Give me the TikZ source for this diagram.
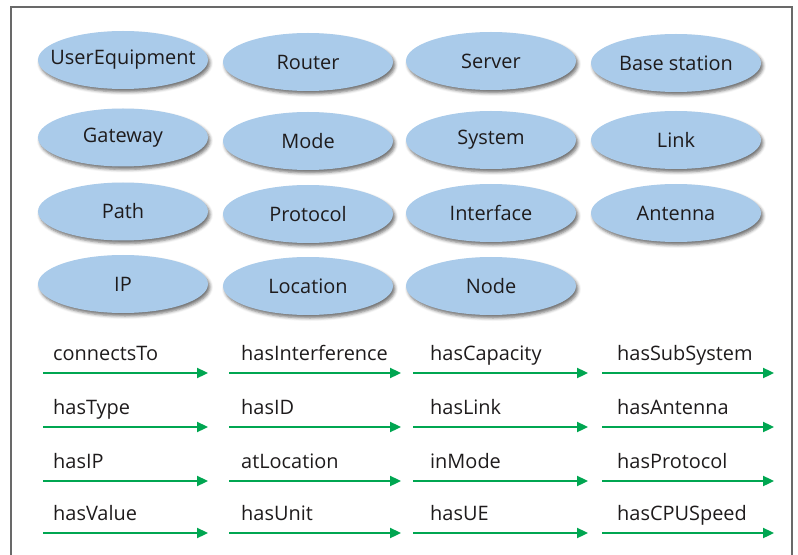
\documentclass[tikz,border=0pt]{standalone}
\usepackage{fontspec}
\setmainfont{Open Sans}
\usetikzlibrary{shapes.geometric,shadows.blur,arrows.meta}
\definecolor{ebl}{RGB}{170,203,234}
\definecolor{egr}{RGB}{0,166,81}
\definecolor{txt}{RGB}{30,27,28}
\definecolor{frm}{RGB}{105,105,105}
\newcommand{\zw}[1]{\makebox[0pt]{#1}}
\begin{document}
\begin{tikzpicture}[x=1bp,y=-1bp,
  concept/.style={ellipse, fill=ebl, minimum width=170bp, minimum height=58bp, inner sep=0pt,
    text=txt, font=\fontsize{20}{23}\selectfont,
    blur shadow={shadow xshift=2bp, shadow yshift=-3bp, shadow blur radius=3bp, shadow opacity=55}},
  rel/.style={anchor=base west, inner sep=0pt, text=txt, font=\fontsize{20}{23}\selectfont},
  relarrow/.style={draw=egr, line width=2.3bp, -{Triangle[length=11bp,width=10bp]}}]
\useasboundingbox (0,0) rectangle (798,555);
\draw[frm, line width=1.5bp] (11,556) -- (11,7) -- (792,7) -- (792,556);
% concepts
\node[concept] (ue) at (123,60) {\zw{UserEquipment}};
\node[concept] (router) at (308,62) {\zw{Router}};
\node[concept] (server) at (491,61) {\zw{Server}};
\node[concept] (base) at (676,63) {\zw{Base station}};
\node[concept] (gateway) at (123,137.5) {\zw{Gateway}};
\node[concept] (mode) at (308,141) {\zw{Mode}};
\node[concept] (system) at (491,140) {\zw{System}};
\node[concept] (link) at (676,140) {\zw{Link}};
\node[concept] (path) at (123,211.5) {\zw{Path}};
\node[concept] (protocol) at (308,214) {\zw{Protocol}};
\node[concept] (interface) at (491,213) {\zw{Interface}};
\node[concept] (antenna) at (676,213) {\zw{Antenna}};
\node[concept] (ip) at (123,284) {\zw{IP}};
\node[concept] (location) at (308,286) {\zw{Location}};
\node[concept] (node) at (491,286) {\zw{Node}};
% relations
\foreach \lab/\nm/\x/\xs/\xe/\y in {
  connectsTo/r11/53/43/208/373, hasInterference/r12/241/229/401/373, hasCapacity/r13/430/413/588/373, hasSubSystem/r14/617/602/774/373,
  hasType/r21/53/43/208/427, hasID/r22/241/229/401/427, hasLink/r23/430/413/588/427, hasAntenna/r24/617/602/774/427,
  hasIP/r31/53/43/208/481, atLocation/r32/241/229/401/481, inMode/r33/430/413/588/481, hasProtocol/r34/617/602/774/481,
  hasValue/r41/53/43/208/533, hasUnit/r42/241/229/401/533, hasUE/r43/430/413/588/533, hasCPUSpeed/r44/617/602/774/533}{
  \node[rel] (\nm) at (\x,\y-13) {\lab};
  \coordinate (\nm s) at (\xs,\y);
  \coordinate (\nm e) at (\xe,\y);
  \draw[relarrow] (\nm s) -- (\nm e);
}
\end{tikzpicture}
\end{document}
